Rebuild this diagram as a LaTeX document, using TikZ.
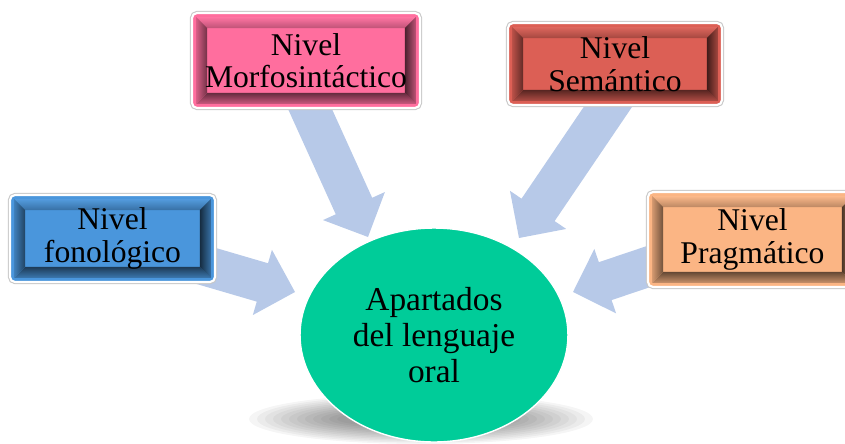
\documentclass[tikz,border=0pt]{standalone}
\usepackage{fontspec}
\setmainfont{Liberation Serif}
\usetikzlibrary{calc,backgrounds,shapes.geometric}

\definecolor{azulflecha}{RGB}{183,201,232}
\definecolor{azul}{RGB}{74,150,220}
\definecolor{rosa}{RGB}{255,110,158}
\definecolor{rojo}{RGB}{220,95,85}
\definecolor{durazno}{RGB}{251,181,132}
\definecolor{verde}{RGB}{0,204,153}

\tikzset{
	nivel/.style={rectangle, rounded corners=0.1cm, fill=#1, draw=white, line width=1.2pt,
		preaction={draw=black!22, line width=2.4pt},
		align=center, inner sep=0pt, font=\fontsize{18}{18.5}\selectfont,
		path picture={
			\coordinate (bsw) at ([shift={(0.08cm,0.08cm)}]path picture bounding box.south west);
			\coordinate (bne) at ([shift={(-0.08cm,-0.08cm)}]path picture bounding box.north east);
			\coordinate (bnw) at (bsw |- bne);
			\coordinate (bse) at (bne |- bsw);
			\coordinate (isw) at ([shift={(0.22cm,0.22cm)}]bsw);
			\coordinate (ine) at ([shift={(-0.22cm,-0.22cm)}]bne);
			\coordinate (inw) at (isw |- ine);
			\coordinate (ise) at (ine |- isw);
			\shade[sharp corners, top color=#1!95!white, bottom color=#1!75!black] (bnw) -- (bne) -- (ine) -- (inw) -- cycle;
			\shade[sharp corners, top color=#1!40!black, bottom color=#1!80!black] (bsw) -- (bse) -- (ise) -- (isw) -- cycle;
			\shade[sharp corners, left color=#1!85!black, right color=#1!45!black] (bsw) -- (bnw) -- (inw) -- (isw) -- cycle;
			\shade[sharp corners, left color=#1!30!black, right color=#1!75!black] (bse) -- (bne) -- (ine) -- (ise) -- cycle;
		}},
	circulo/.style={ellipse, fill=verde, draw=white, line width=0.8pt, inner sep=0pt,
		minimum width=5.36cm, minimum height=4.28cm, align=center, font=\fontsize{19}{20.5}\selectfont},
	flecha/.style={fill=azulflecha, to path={
		let \p1=($(\tikztostart)+(#1)$), \p2=(\tikztotarget), \n1={atan2(\y2-\y1,\x2-\x1)} in
		($(\p1)+(\n1+90:0.4cm)$) -- ($(\p2)+(\n1:-0.68cm)+(\n1+90:0.4cm)$)
		-- ($(\p2)+(\n1:-0.68cm)+(\n1+90:0.68cm)$) -- (\p2)
		-- ($(\p2)+(\n1:-0.68cm)+(\n1-90:0.68cm)$) -- ($(\p2)+(\n1:-0.68cm)+(\n1-90:0.4cm)$)
		-- ($(\p1)+(\n1-90:0.4cm)$) -- cycle}},
	flecha/.default={0,0}
}

\begin{document}
\begin{tikzpicture}[x=0.02cm, y=-0.02cm]
	\useasboundingbox (0,0) rectangle (845,443);

	\node[nivel=azul, minimum width=4.1cm, minimum height=1.74cm] (fono) at (112.5,238.5) {Nivel\\fonológico};
	\node[nivel=rosa, minimum width=4.56cm, minimum height=1.9cm] (morfo) at (306,60.5) {Nivel\\Morfosintáctico};
	\node[nivel=rojo, minimum width=4.28cm, minimum height=1.64cm] (sema) at (615,64) {Nivel\\Semántico};
	\node[nivel=durazno, minimum width=4.18cm, minimum height=1.9cm] (prag) at (752.5,239.5) {Nivel\\Pragmático};
	\node[circulo] (oral) at (434,335) {Apartados\\del lenguaje\\oral};

	\coordinate (t1) at (295,292);
	\coordinate (t2) at (368,237);
	\coordinate (t3) at (519,238);
	\coordinate (t4) at (573,292);

	\begin{scope}[on background layer]
		\foreach \k in {0,...,11}
			\fill[black, opacity=0.04] (421,419) ellipse ({172-\k*8} and {25-\k*1.5});
		\path[flecha] (fono) to (t1);
		\path[flecha={-18,0}] (morfo) to (t2);
		\path[flecha={22,0}] (sema) to (t3);
		\path[flecha={0,-8}] (prag) to (t4);
	\end{scope}
\end{tikzpicture}
\end{document}
